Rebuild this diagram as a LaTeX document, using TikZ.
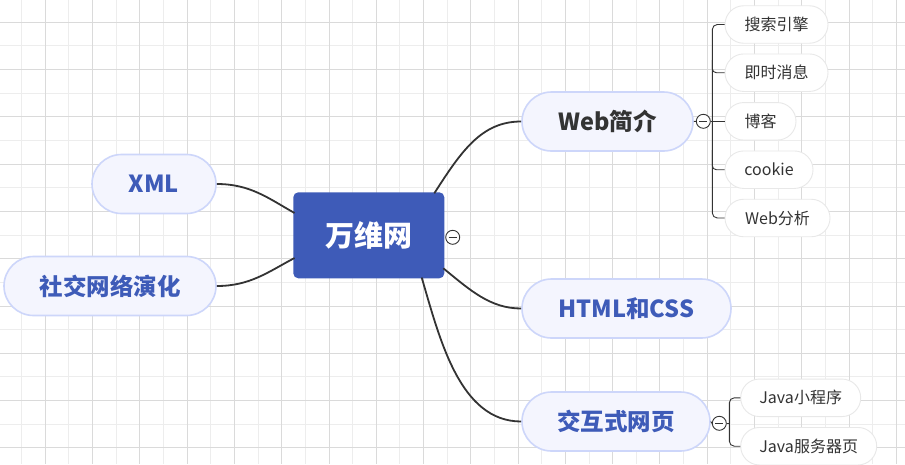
\documentclass[tikz,border=0pt]{standalone}
\usepackage{fontspec}
\usetikzlibrary{calc}
\setmainfont{Noto Sans CJK SC}
\definecolor{gridD}{HTML}{DADADA}
\definecolor{gridL}{HTML}{EDEDED}
\definecolor{mainblue}{HTML}{3E5BB8}
\definecolor{pillfill}{HTML}{F4F5FE}
\definecolor{pillborder}{HTML}{CDD6FA}
\definecolor{leafborder}{HTML}{E8E8E8}
\definecolor{txt}{HTML}{333333}
\definecolor{conn}{HTML}{333333}
\tikzset{
  pill/.style={draw=pillborder, line width=1.6pt, fill=pillfill, rounded corners=29.5pt,
    minimum height=59pt, inner sep=0pt, text=mainblue, font=\fontsize{23.5}{26}\selectfont\bfseries},
  leaf/.style={draw=leafborder, line width=0.9pt, fill=white, rounded corners=18.7pt,
    minimum height=37.5pt, inner sep=0pt, text=txt, font=\fontsize{16}{18}\selectfont},
  centralbox/.style={fill=mainblue, rounded corners=5pt, minimum width=151pt, minimum height=86pt,
    inner sep=0pt, text=white, font=\fontsize{29}{32}\selectfont\bfseries},
  collapse/.style={circle, draw=conn, fill=white, line width=0.9pt, minimum size=14pt, inner sep=0pt},
  mainconn/.style={draw=conn, line width=1.8pt},
  leafconn/.style={draw=conn, line width=0.9pt},
}
\begin{document}
\begin{tikzpicture}[x=1pt,y=-1pt]
\useasboundingbox (0,0) rectangle (905,464);
\fill[white] (0,0) rectangle (905,464);
% grid
\foreach \i in {0,...,19} {
  \draw[gridL, line width=0.9pt] ({21.66+47.28*\i},0) -- ({21.66+47.28*\i},464);
}
\foreach \i in {0,...,9} {
  \draw[gridL, line width=0.9pt] (0,{45.94+47.28*\i}) -- (905,{45.94+47.28*\i});
}
\foreach \i in {0,...,18} {
  \draw[gridD, line width=0.9pt] ({45.3+47.28*\i},0) -- ({45.3+47.28*\i},464);
}
\foreach \i in {0,...,9} {
  \draw[gridD, line width=0.9pt] (0,{22.3+47.28*\i}) -- (905,{22.3+47.28*\i});
}

% central
\node[centralbox] (c) at (368.8,235.3) {万维网};
\node[collapse] (c0) at (452.7,237.3) {};
\draw[conn, line width=0.9pt] ($(c0.center)+(-4,0)$) -- ($(c0.center)+(4,0)$);

% main pills
\node[pill, minimum width=171pt, text=txt] (web) at (607.5,121.5) {Web简介};
\node[pill, minimum width=209pt] (html) at (626.5,308.5) {HTML和CSS};
\node[pill, minimum width=188pt] (jh) at (616,421.5) {交互式网页};
\node[pill, minimum width=124pt] (xml) at (154,184) {XML};
\node[pill, minimum width=212pt] (sj) at (110,286) {社交网络演化};

% main connectors
\coordinate (cWeb) at (434.3,193.3);
\coordinate (cHtml) at (443.3,268.3);
\coordinate (cJh) at (421.7,277.5);
\coordinate (cXml) at (294.5,213.0);
\coordinate (cSj) at (294.5,258.0);
\draw[mainconn] (cWeb) .. controls (462,150) and (482,121.5) .. (web.west);
\draw[mainconn] (cHtml) .. controls (470,290) and (490,308.5) .. (html.west);
\draw[mainconn] (cJh) .. controls (440,340) and (460,421.5) .. (jh.west);
\draw[mainconn] (cXml) .. controls (268,198) and (250,184) .. (xml.east);
\draw[mainconn] (cSj) .. controls (268,272) and (250,286) .. (sj.east);

% Web leaves
\node[leaf, minimum width=103pt] (s1) at (776.5,24.5) {搜索引擎};
\node[leaf, minimum width=103pt] (s2) at (776.5,72.7) {即时消息};
\node[leaf, minimum width=71pt] (s3) at (760.5,121.3) {博客};
\node[leaf, minimum width=88pt] (s4) at (769,169.7) {cookie};
\node[leaf, minimum width=105pt] (s5) at (777.5,218) {Web分析};
\node[collapse] (c1) at (703.3,121.3) {};
\draw[leafconn] ($(c1.center)+(-4,0)$) -- ($(c1.center)+(4,0)$);
\draw[leafconn] (web.east) -- (c1.west);
\coordinate (b1) at (712.3,121.3);
\draw[leafconn] (c1.east) -- (b1);
\draw[leafconn, rounded corners=5pt] (s1.west) -- (712.3,24.5) -- (712.3,218) -- (s5.west);
\draw[leafconn, rounded corners=4pt] (712.3,60) |- (s2.west);
\draw[leafconn] (b1) -- (s3.west);
\draw[leafconn, rounded corners=4pt] (712.3,150) |- (s4.west);

% Java leaves
\node[leaf, minimum width=120pt] (j1) at (800.7,397.8) {Java小程序};
\node[leaf, minimum width=136pt] (j2) at (808.7,446.2) {Java服务器页};
\node[collapse] (c2) at (719.3,423.3) {};
\draw[leafconn] ($(c2.center)+(-4,0)$) -- ($(c2.center)+(4,0)$);
\draw[leafconn] (jh.east) -- (c2.west);
\coordinate (b2) at (729.3,423.3);
\draw[leafconn] (c2.east) -- (b2);
\draw[leafconn, rounded corners=5pt] (j1.west) -- (729.3,397.8) -- (729.3,446.2) -- (j2.west);
\end{tikzpicture}
\end{document}
